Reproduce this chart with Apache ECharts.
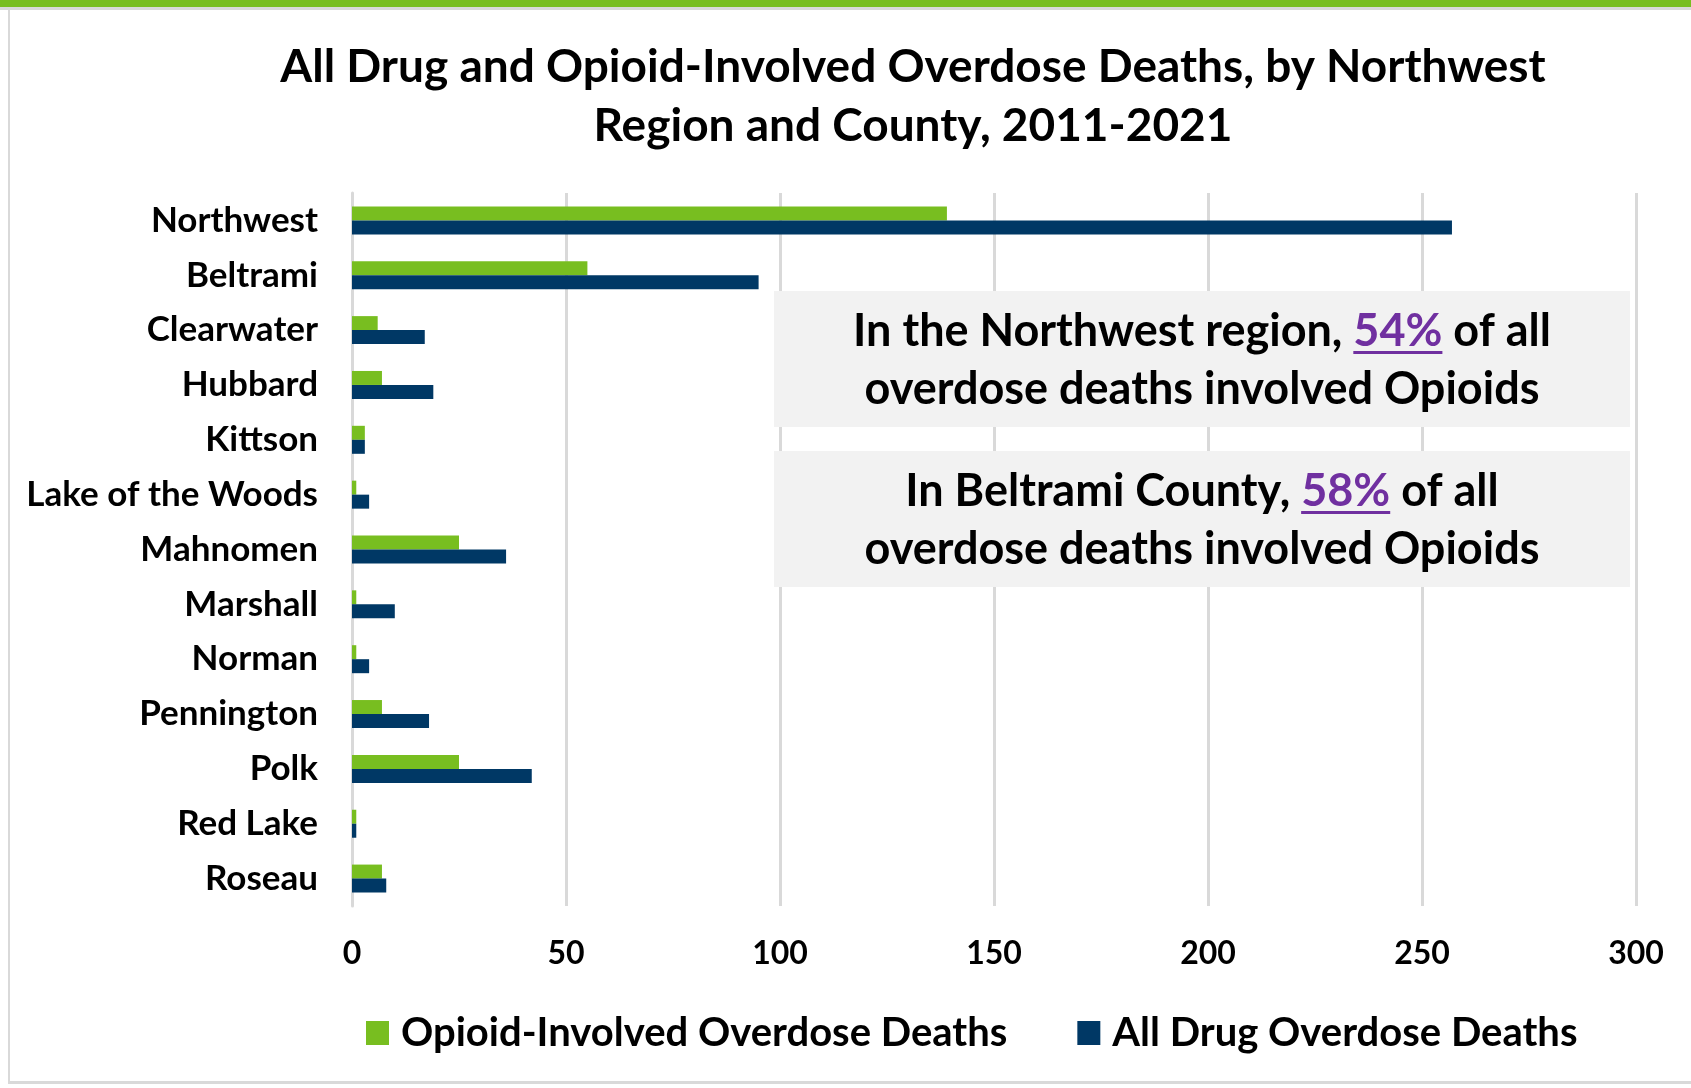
<!DOCTYPE html>
<html>
<head>
<meta charset="utf-8">
<script src="https://cdn.jsdelivr.net/npm/echarts@6/dist/echarts.min.js"></script>
<style>
html,body{margin:0;padding:0;background:#fff;}
#chart{width:1691px;height:1088px;}
</style>
</head>
<body>
<div id="chart"></div>
<script>
const categories = ['Northwest','Beltrami','Clearwater','Hubbard','Kittson','Lake of the Woods','Mahnomen','Marshall','Norman','Pennington','Polk','Red Lake','Roseau'];
const opioidDeaths = [139, 55, 6, 7, 3, 1, 25, 1, 1, 7, 25, 1, 7];
const allDrugDeaths = [257, 95, 17, 19, 3, 4, 36, 10, 4, 18, 42, 1, 8];
const seriesNames = ['Opioid-Involved Overdose Deaths', 'All Drug Overdose Deaths'];
const xMin = 0, xMax = 300, xStep = 50;
const titleLines = ['All Drug and Opioid-Involved Overdose Deaths, by Northwest', 'Region and County, 2011-2021'];

const FONT = 'Lato';
const GREEN = '#78BE20';
const BLUE = '#003865';
const PURPLE = '#7030A0';

const pctNW = Math.round(opioidDeaths[0] / allDrugDeaths[0] * 100) + '%';
const pctBel = Math.round(opioidDeaths[1] / allDrugDeaths[1] * 100) + '%';

const annFont = 45;
const mctx = document.createElement('canvas').getContext('2d');
mctx.font = 'bold ' + annFont + 'px ' + FONT;
function mw(s){ return mctx.measureText(s).width; }

function annotation(cx, cy1, cy2, pre, pct, post, line2, boxTop, boxBottom){
  const total = mw(pre + pct + post);
  const ux = cx - total/2 + mw(pre);
  const uw = mw(pct);
  return [
    {type:'rect', shape:{x:774, y:boxTop, width:856, height:boxBottom-boxTop}, style:{fill:'#F2F2F2'}, z:10},
    {type:'text', x:cx, y:cy1, z:11, style:{
      text:'{a|' + pre + '}{p|' + pct + '}{a|' + post + '}',
      align:'center', verticalAlign:'middle',
      rich:{
        a:{fontSize:annFont, fontWeight:'bold', fontFamily:FONT, fill:'#000'},
        p:{fontSize:annFont, fontWeight:'bold', fontFamily:FONT, fill:PURPLE}
      }
    }},
    {type:'rect', shape:{x:ux, y:cy1+20, width:uw, height:3}, style:{fill:PURPLE}, z:11},
    {type:'text', x:cx, y:cy2, z:11, style:{
      text:line2, align:'center', verticalAlign:'middle',
      fontSize:annFont, fontWeight:'bold', fontFamily:FONT, fill:'#000'
    }}
  ];
}

const chart = echarts.init(document.getElementById('chart'), null, {renderer:'canvas'});
const option = {
  animation:false,
  backgroundColor:'#fff',
  grid:{left:352, right:55, top:193, bottom:182, containLabel:false},
  xAxis:{
    type:'value', min:xMin, max:xMax, interval:xStep,
    axisLine:{show:false}, axisTick:{show:false},
    splitLine:{show:true, lineStyle:{color:'#D9D9D9', width:3}},
    axisLabel:{fontSize:32, fontWeight:'bold', color:'#000', fontFamily:FONT, margin:32}
  },
  yAxis:{
    type:'category', data:categories, inverse:true,
    axisTick:{show:false},
    axisLine:{show:true, lineStyle:{color:'#D9D9D9', width:3}},
    axisLabel:{fontSize:35, fontWeight:'bold', color:'#000', fontFamily:FONT, margin:34}
  },
  legend:{
    left:361, top:1008, icon:'rect', itemWidth:23, itemHeight:24, itemGap:70,
    textStyle:{fontSize:40, fontWeight:'bold', color:'#000', fontFamily:FONT, padding:[0,0,0,7]},
    data:seriesNames
  },
  series:[
    {name:seriesNames[0], type:'bar', data:opioidDeaths, barWidth:14, barGap:'0%', itemStyle:{color:GREEN}},
    {name:seriesNames[1], type:'bar', data:allDrugDeaths, barWidth:14, barGap:'0%', itemStyle:{color:BLUE}}
  ],
  graphic:[
    {type:'rect', shape:{x:0, y:0, width:1691, height:7}, style:{fill:GREEN}, z:1},
    {type:'rect', shape:{x:0, y:7, width:1691, height:3}, style:{fill:'#D9D9D9'}, z:1},
    {type:'rect', shape:{x:8, y:7, width:2, height:1077}, style:{fill:'#D9D9D9'}, z:1},
    {type:'rect', shape:{x:8, y:1081, width:1683, height:3}, style:{fill:'#D9D9D9'}, z:1},
    {type:'text', x:913, y:67, style:{text:titleLines[0], align:'center', verticalAlign:'middle', fontSize:46, fontWeight:'bold', fontFamily:FONT, fill:'#000'}},
    {type:'text', x:913, y:126, style:{text:titleLines[1], align:'center', verticalAlign:'middle', fontSize:46, fontWeight:'bold', fontFamily:FONT, fill:'#000'}}
  ].concat(
    annotation(1202, 331, 389, 'In the Northwest region, ', pctNW, ' of all', 'overdose deaths involved Opioids', 291, 427),
    annotation(1202, 491, 549, 'In Beltrami County, ', pctBel, ' of all', 'overdose deaths involved Opioids', 451, 587)
  )
};
chart.setOption(option);
</script>
</body>
</html>
